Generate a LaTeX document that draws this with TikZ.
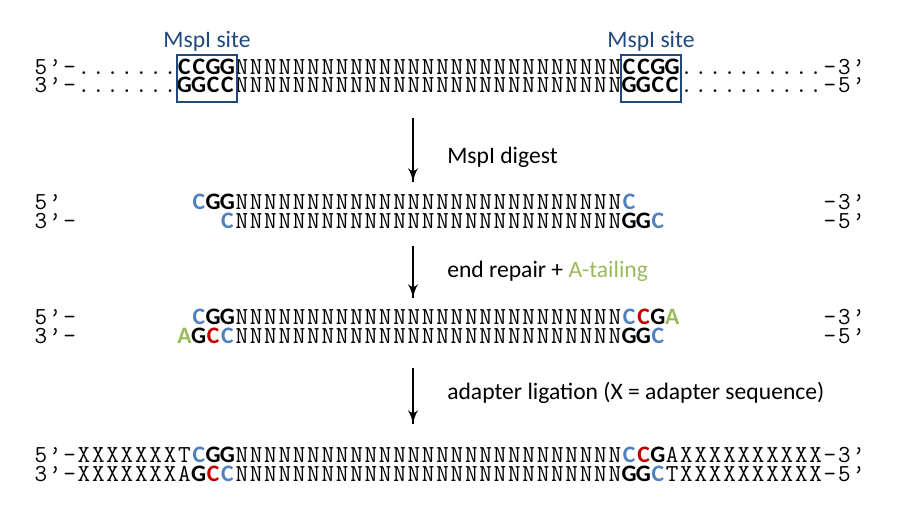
\documentclass[tikz,border=0pt]{standalone}
\usepackage{fontspec}
\setsansfont{Carlito}
\usetikzlibrary{arrows}
\usetikzlibrary{decorations.markings}
\usetikzlibrary{positioning}
\tikzset{->/.style = {decoration={markings,
                                  mark=at position 1 with {\arrow[scale=1.7]{latex'}}},
                      postaction={decorate}}}
\tikzset{strand/.style = {anchor=base west, inner sep=0,
                          font=\ttfamily\fontsize{18.3}{20}\selectfont}}
\tikzset{note/.style = {anchor=base west, inner sep=0,
                        font=\sffamily\fontsize{17.7}{20}\selectfont}}
\tikzset{site/.style = {draw=mnavy, line width=1.1pt, inner sep=0,
                        minimum width=45pt, minimum height=35.25pt}}
\definecolor{mblue}{RGB}{79,129,189}
\definecolor{mred}{RGB}{192,0,0}
\definecolor{mgreen}{RGB}{155,187,89}
\definecolor{mnavy}{RGB}{31,73,125}
\newlength{\colw}
\setlength{\colw}{10.76pt}
% one base per column
\def\baseloop#1{\ifx#1\relax\else\makebox[\colw][c]{#1}\expandafter\baseloop\fi}
\newcommand{\bases}[1]{\baseloop#1\relax}
\newcommand{\nt}[2][black]{\makebox[\colw][c]{\sffamily\bfseries\fontsize{17.7}{20}\selectfont\color{#1}#2}}
\newcommand{\gap}[1]{\hspace*{#1\colw}}
\newcommand{\Ns}{\bases{NNNNNNNNNNNNNNNNNNNNNNNNNNN}}

\begin{document}
\begin{tikzpicture}[x=0.75pt, y=-0.75pt]
      \useasboundingbox (0, 0) rectangle (907, 519);

      % genomic DNA with the two MspI sites
      \node [strand] (top5) at (33.5, 74) {\bases{5’–.......}\nt{C}\nt{C}\nt{G}\nt{G}\Ns\nt{C}\nt{C}\nt{G}\nt{G}\bases{..........–3’}};
      \node [strand] (top3) at (33.5, 92.5) {\bases{3’–.......}\nt{G}\nt{G}\nt{C}\nt{C}\Ns\nt{G}\nt{G}\nt{C}\nt{C}\bases{..........–5’}};

      \node [site] (siteL) at (207, 78.5) {};
      \node [site] (siteR) at (651, 78.5) {};
      \node [note, anchor=south, text=mnavy, above=2pt of siteL] (labL) {MspI site};
      \node [note, anchor=south, text=mnavy, above=2pt of siteR] (labR) {MspI site};

      % digest
      \node [strand] (cut5) at (33.5, 209.5) {\bases{5’}\gap{9}\nt[mblue]{C}\nt{G}\nt{G}\Ns\nt[mblue]{C}\gap{13}\bases{–3’}};
      \node [strand] (cut3) at (33.5, 228) {\bases{3’–}\gap{10}\nt[mblue]{C}\Ns\nt{G}\nt{G}\nt[mblue]{C}\gap{11}\bases{–5’}};

      % end repair and A-tailing
      \node [strand] (fill5) at (33.5, 324.5) {\bases{5’–}\gap{8}\nt[mblue]{C}\nt{G}\nt{G}\Ns\nt[mblue]{C}\nt[mred]{C}\nt{G}\nt[mgreen]{A}\gap{10}\bases{–3’}};
      \node [strand] (fill3) at (33.5, 343) {\bases{3’–}\gap{7}\nt[mgreen]{A}\nt{G}\nt[mred]{C}\nt[mblue]{C}\Ns\nt{G}\nt{G}\nt[mblue]{C}\gap{11}\bases{–5’}};

      % ligated adapters
      \node [strand] (lig5) at (33.5, 462.5) {\bases{5’–XXXXXXXT}\nt[mblue]{C}\nt{G}\nt{G}\Ns\nt[mblue]{C}\nt[mred]{C}\nt{G}\bases{AXXXXXXXXXX–3’}};
      \node [strand] (lig3) at (33.5, 481) {\bases{3’–XXXXXXXA}\nt{G}\nt[mred]{C}\nt[mblue]{C}\Ns\nt{G}\nt{G}\nt[mblue]{C}\bases{TXXXXXXXXXX–5’}};

      \coordinate (s1) at (413, 118);
      \coordinate (e1) at (413, 182);
      \coordinate (s2) at (413, 246);
      \coordinate (e2) at (413, 298);
      \coordinate (s3) at (413, 368);
      \coordinate (e3) at (413, 424);

      \draw [->, line width=1.1pt] (s1) -- (e1);
      \draw [->, line width=1.1pt] (s2) -- (e2);
      \draw [->, line width=1.1pt] (s3) -- (e3);

      \node [note] (step1) at (447, 163) {MspI digest};
      \node [note] (step2) at (447, 277) {end repair + \textcolor{mgreen}{A-tailing}};
      \node [note] (step3) at (447, 399) {adapter ligation (X = adapter sequence)};
    \end{tikzpicture}
\end{document}
